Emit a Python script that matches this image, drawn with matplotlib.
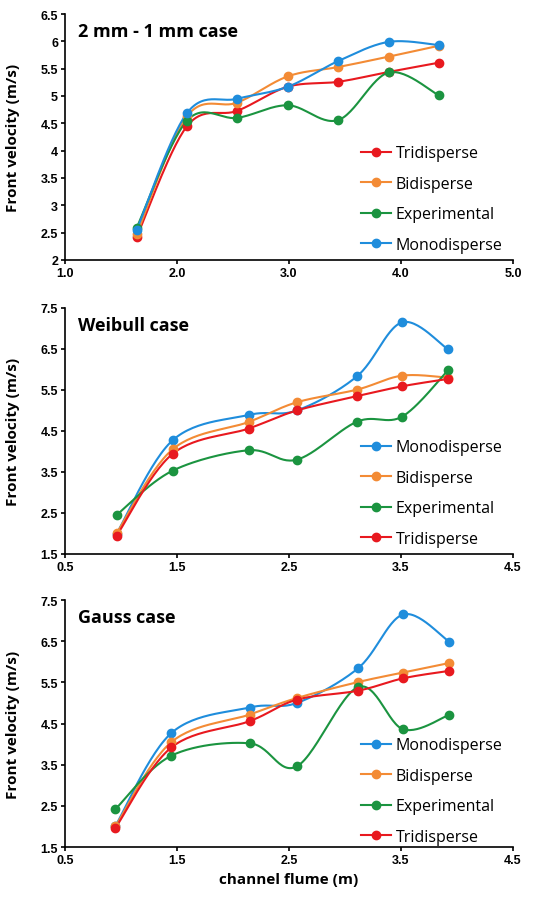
import numpy as np
import matplotlib
matplotlib.use("Agg")
import matplotlib.pyplot as plt
from matplotlib.lines import Line2D

# channel position (m) and front velocity (m/s) for each case
x_mm = [1.64, 2.09, 2.54, 2.99, 3.44, 3.89, 4.34]
mm_tri = [2.42, 4.45, 4.73, 5.17, 5.26, 5.44, 5.61]
mm_bi = [2.47, 4.63, 4.88, 5.36, 5.53, 5.72, 5.92]
mm_exp = [2.59, 4.55, 4.60, 4.83, 4.56, 5.43, 5.01]
mm_mono = [2.55, 4.69, 4.95, 5.17, 5.64, 5.99, 5.93]

x_wb = [0.96, 1.46, 2.14, 2.57, 3.11, 3.51, 3.92]
wb_mono = [1.99, 4.27, 4.89, 5.00, 5.84, 7.15, 6.49]
wb_bi = [2.00, 4.05, 4.72, 5.20, 5.51, 5.85, 5.80]
wb_exp = [2.45, 3.53, 4.03, 3.80, 4.73, 4.85, 5.98]
wb_tri = [1.94, 3.94, 4.56, 5.00, 5.35, 5.59, 5.77]

x_gs = [0.95, 1.45, 2.15, 2.57, 3.12, 3.52, 3.93]
gs_mono = [2.01, 4.27, 4.89, 5.00, 5.85, 7.15, 6.49]
gs_bi = [2.00, 4.05, 4.72, 5.12, 5.51, 5.74, 5.97]
gs_exp = [2.42, 3.72, 4.02, 3.46, 5.39, 4.36, 4.71]
gs_tri = [1.96, 3.92, 4.56, 5.08, 5.30, 5.60, 5.78]

RED = '#e8191f'
ORANGE = '#f38b35'
GREEN = '#1b9440'
BLUE = '#1f8ddc'

TICK_FONT = dict(family='Liberation Sans', weight='bold', size=9)
LABEL_FONT = dict(family='Open Sans', weight='bold', size=11)


def smooth(x, y, n=30):
    # Excel-style smoothed line: cubic Bezier segments with Catmull-Rom control points
    x = np.asarray(x, float)
    y = np.asarray(y, float)
    px = np.concatenate([[x[0]], x, [x[-1]]])
    py = np.concatenate([[y[0]], y, [y[-1]]])
    t = np.linspace(0, 1, n)[:, None]
    xs, ys = [], []
    for i in range(1, len(px) - 2):
        p0 = np.array([px[i], py[i]])
        p3 = np.array([px[i + 1], py[i + 1]])
        p1 = p0 + (p3 - np.array([px[i - 1], py[i - 1]])) / 6
        p2 = p3 - (np.array([px[i + 2], py[i + 2]]) - p0) / 6
        b = ((1 - t) ** 3) * p0 + 3 * ((1 - t) ** 2) * t * p1 \
            + 3 * (1 - t) * t ** 2 * p2 + t ** 3 * p3
        xs.append(b[:, 0])
        ys.append(b[:, 1])
    return np.concatenate(xs), np.concatenate(ys)


def panel(ax, x, series, title, xlim, xticks, xfmt, ylim, yticks, yfmt, leg_y):
    for name, y, c in series:
        sx, sy = smooth(x, y)
        ax.plot(sx, sy, color=c, lw=1.5, zorder=3)
        ax.plot(x, y, 'o', color=c, ms=6, zorder=4)
    ax.set_xlim(*xlim)
    ax.set_ylim(*ylim)
    ax.set_xticks(xticks)
    ax.set_xticklabels([xfmt.format(v) for v in xticks], **TICK_FONT)
    ax.set_yticks(yticks)
    ax.set_yticklabels([yfmt(v) for v in yticks], **TICK_FONT)
    for s in ['top', 'right']:
        ax.spines[s].set_visible(False)
    for s in ['left', 'bottom']:
        ax.spines[s].set_linewidth(1.2)
    ax.tick_params(direction='out', length=3, width=1.2, pad=2)
    ax.set_ylabel('Front velocity (m/s)', **LABEL_FONT)
    ax.yaxis.set_label_coords(-0.1, 0.5)
    ax.text(0.03, 0.93, title, transform=ax.transAxes, ha='left', va='center',
            family='Open Sans', weight='bold', size=13)
    handles = [Line2D([], [], color=c, lw=1.5, marker='o', ms=6)
               for _, _, c in series]
    ax.legend(handles, [s[0] for s in series], loc='center left',
              bbox_to_anchor=(0.66, leg_y), frameon=False, borderpad=0,
              borderaxespad=0, handlelength=1.9, handletextpad=0.3,
              labelspacing=0.9, prop=dict(family='Open Sans', size=11.5))


fig = plt.figure(figsize=(5.38, 9.04), dpi=100)
ax1 = fig.add_axes([0.1208, 0.7113, 0.8327, 0.2721])
ax2 = fig.add_axes([0.1208, 0.3861, 0.8327, 0.2721])
ax3 = fig.add_axes([0.1208, 0.0619, 0.8327, 0.2732])

panel(ax1, x_mm,
      [('Tridisperse', mm_tri, RED), ('Bidisperse', mm_bi, ORANGE),
       ('Experimental', mm_exp, GREEN), ('Monodisperse', mm_mono, BLUE)],
      '2 mm - 1 mm case', (1.0, 5.0), [1.0, 2.0, 3.0, 4.0, 5.0], '{:.1f}',
      (2, 6.5), np.arange(2, 6.51, 0.5), lambda v: f'{v:g}', 0.248)

panel(ax2, x_wb,
      [('Monodisperse', wb_mono, BLUE), ('Bidisperse', wb_bi, ORANGE),
       ('Experimental', wb_exp, GREEN), ('Tridisperse', wb_tri, RED)],
      'Weibull case', (0.5, 4.5), [0.5, 1.5, 2.5, 3.5, 4.5], '{:.1f}',
      (1.5, 7.5), np.arange(1.5, 7.51, 1.0), lambda v: f'{v:.1f}', 0.248)

panel(ax3, x_gs,
      [('Monodisperse', gs_mono, BLUE), ('Bidisperse', gs_bi, ORANGE),
       ('Experimental', gs_exp, GREEN), ('Tridisperse', gs_tri, RED)],
      'Gauss case', (0.5, 4.5), [0.5, 1.5, 2.5, 3.5, 4.5], '{:.1f}',
      (1.5, 7.5), np.arange(1.5, 7.51, 1.0), lambda v: f'{v:.1f}', 0.227)
ax3.set_xlabel('channel flume (m)', labelpad=4, **LABEL_FONT)

fig.savefig('out.png', dpi=100)
